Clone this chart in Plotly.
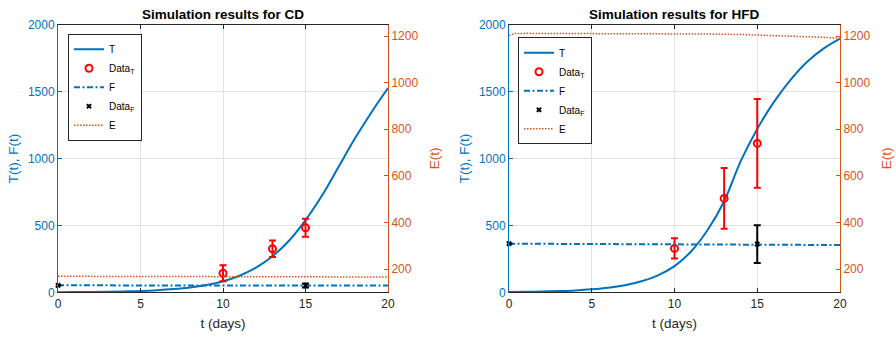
import plotly.graph_objects as go

# ---------------- data ----------------
t_days = list(range(0, 21))

# CD panel
T_cd = [1.2, 1.9, 2.9, 4.4, 6.7, 10, 15.6, 23.8, 36, 55, 83, 124, 184, 269, 385, 539, 723, 936, 1150, 1345, 1525]
F_cd = [52, 52, 52, 52, 52, 52, 52, 52, 52, 52, 52, 52, 52, 51.8, 51.6, 51.4, 51.2, 51, 50.8, 50.6, 50.4]
tE_cd = [0, 5, 10, 15, 20]
E_cd = [168.7, 168, 167.3, 166.5, 165.7]
tData_T = [10, 13, 15]
DataT_cd = [142, 325, 482]
DataT_cd_err = [60, 61, 68]
tData_F = [0, 15]
DataF_cd = [52, 50]
DataF_cd_err = [0, 15]

# HFD panel
T_hfd = [2.5, 3.8, 5.9, 9.2, 14, 22, 34, 53, 82, 127, 196, 305, 465, 680, 980, 1220, 1420, 1585, 1720, 1820, 1895]
F_hfd = [363, 362.5, 362, 361.5, 361, 360.5, 360, 359.5, 359, 358.5, 358, 357.5, 357, 356.5, 356, 355.5, 355, 354.5, 354, 353.5, 353]
tE_hfd = [0, 0.3, 1, 2, 4, 6, 8, 10, 12, 14, 15, 16, 17, 18, 19, 20]
E_hfd = [1202, 1211, 1212, 1212, 1212, 1212, 1211, 1210, 1209, 1207, 1205, 1203, 1201, 1199, 1195, 1191]
DataT_hfd = [328, 701, 1112]
DataT_hfd_err = [75, 227, 332]
DataF_hfd = [363, 360]
DataF_hfd_err = [0, 141]

titles = ["Simulation results for CD", "Simulation results for HFD"]
x_ticks = [0, 5, 10, 15, 20]
left_ticks = [0, 500, 1000, 1500, 2000]
right_ticks = [200, 400, 600, 800, 1000, 1200]

# ---------------- style ----------------
BLUE = "#0072BD"
ORANGE = "#D95319"
DARK = "#262626"
GRID = "#e3e3e3"
FONT = "Liberation Sans, Arial, sans-serif"
W, H = 896, 337

fig = go.Figure()

panels = [
    dict(T=T_cd, F=F_cd, tE=tE_cd, E=E_cd, DT=DataT_cd, DTe=DataT_cd_err, DF=DataF_cd, DFe=DataF_cd_err,
         xa="x", ya="y", ya2="y2", leg="legend"),
    dict(T=T_hfd, F=F_hfd, tE=tE_hfd, E=E_hfd, DT=DataT_hfd, DTe=DataT_hfd_err, DF=DataF_hfd, DFe=DataF_hfd_err,
         xa="x2", ya="y3", ya2="y4", leg="legend2"),
]

for p in panels:
    fig.add_trace(go.Scatter(x=t_days, y=p["T"], mode="lines", name="T",
                             line=dict(color=BLUE, width=2, shape="spline"),
                             xaxis=p["xa"], yaxis=p["ya"], legend=p["leg"]))
    fig.add_trace(go.Scatter(x=tData_T, y=p["DT"], mode="markers", name="Data<sub>T</sub>",
                             marker=dict(symbol="circle-open", size=7, color="red", line=dict(width=2, color="red")),
                             error_y=dict(type="data", array=p["DTe"], color="red", thickness=2, width=3.5),
                             xaxis=p["xa"], yaxis=p["ya"], legend=p["leg"]))
    fig.add_trace(go.Scatter(x=t_days, y=p["F"], mode="lines", name="F",
                             line=dict(color=BLUE, width=2, dash="6px,2.5px,2px,2.5px"),
                             xaxis=p["xa"], yaxis=p["ya"], legend=p["leg"]))
    fig.add_trace(go.Scatter(x=tData_F, y=p["DF"], mode="markers", name="Data<sub>F</sub>",
                             marker=dict(symbol="x", size=5, color="black"),
                             error_y=dict(type="data", array=p["DFe"], color="black", thickness=2, width=3.5),
                             xaxis=p["xa"], yaxis=p["ya"], legend=p["leg"], cliponaxis=False))
    fig.add_trace(go.Scatter(x=p["tE"], y=p["E"], mode="lines", name="E",
                             line=dict(color=ORANGE, width=1.5, dash="1.5px,1.5px"),
                             xaxis=p["xa"], yaxis=p["ya2"], legend=p["leg"]))

y0, y1 = 1 - 292.3 / H, 1 - 24.5 / H
doms = [[58 / W, 388 / W], [509 / W, 840 / W]]

xcommon = dict(range=[0, 20], tickvals=x_ticks, ticks="inside", ticklen=4, tickcolor=DARK,
               showline=True, linecolor=DARK, linewidth=1, mirror="ticks", automargin=False,
               showgrid=True, gridcolor=GRID, gridwidth=1, zeroline=False,
               tickfont=dict(family=FONT, size=12, color=DARK),
               title=dict(text="t (days)", font=dict(family=FONT, size=13.5, color=DARK), standoff=8))

layout = dict(
    width=W, height=H, margin=dict(l=0, r=0, t=0, b=0),
    paper_bgcolor="white", plot_bgcolor="white", showlegend=True,
    font=dict(family=FONT),
)
for i, (xa, ya, ya2) in enumerate([("xaxis", "yaxis", "yaxis2"), ("xaxis2", "yaxis3", "yaxis4")]):
    xname = "x" if i == 0 else "x2"
    yname = "y" if i == 0 else "y3"
    layout[xa] = dict(xcommon, domain=doms[i], anchor=yname)
    layout[ya] = dict(domain=[y0, y1], anchor=xname, range=[0, 2000], tickvals=left_ticks, automargin=False,
                      ticks="inside", ticklen=4, tickcolor=BLUE, showline=True, linecolor=BLUE, linewidth=1,
                      showgrid=True, gridcolor=GRID, zeroline=False,
                      tickfont=dict(family=FONT, size=12, color=BLUE),
                      title=dict(text="T(t), F(t)", font=dict(family=FONT, size=13.5, color=BLUE), standoff=6))
    layout[ya2] = dict(overlaying=yname, side="right", anchor=xname, range=[100, 1250], tickvals=right_ticks,
                       automargin=False,
                       ticks="inside", ticklen=4, tickcolor=ORANGE, showline=True, linecolor=ORANGE, linewidth=1,
                       showgrid=False, zeroline=False,
                       tickfont=dict(family=FONT, size=12, color=ORANGE),
                       title=dict(text="E(t)", font=dict(family=FONT, size=13.5, color=ORANGE), standoff=12))

legcommon = dict(bgcolor="white", bordercolor=DARK, borderwidth=1, xanchor="left", yanchor="top",
                 font=dict(family=FONT, size=10, color="black"), tracegroupgap=0, itemwidth=30)
layout["legend"] = dict(legcommon, x=68 / W, y=1 - 33.7 / H)
layout["legend2"] = dict(legcommon, x=518 / W, y=1 - 37.3 / H)

fig.update_layout(**layout)

for i, ttl in enumerate(titles):
    fig.add_annotation(text="<b>" + ttl + "</b>", xref="paper", yref="paper",
                       x=(doms[i][0] + doms[i][1]) / 2, y=1 - 14.5 / H, xanchor="center", yanchor="middle",
                       showarrow=False, font=dict(family=FONT, size=13.5, color="black"))

fig.write_html("out.html")
